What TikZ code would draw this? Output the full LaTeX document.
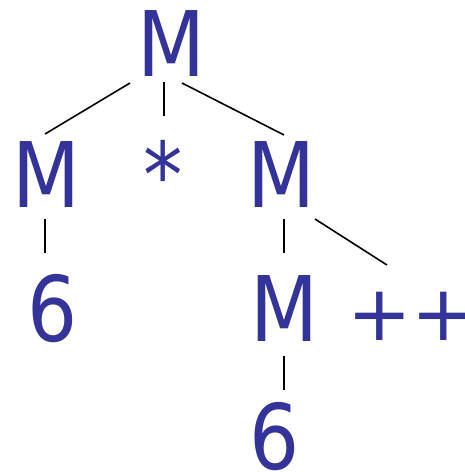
\documentclass[tikz,border=0pt]{standalone}
\usepackage{fontspec}
\setmainfont{DejaVu Sans}
\newfontfamily\symfont{DejaVu Sans}[FakeStretch=0.87]
\definecolor{symblue}{RGB}{51,51,153}
\begin{document}
\begin{tikzpicture}[x=1pt,y=-1pt,
  sym/.style={inner sep=0pt,outer sep=0pt,anchor=base,text=symblue,font=\symfont\fontsize{90.5}{100}\selectfont},
  plus/.style={inner sep=0pt,outer sep=0pt,anchor=base west,text=symblue,font=\fontsize{77}{90}\selectfont},
  edge/.style={draw=black,line width=1.6pt}]
\useasboundingbox (0,0) rectangle (464,472);
\node[sym] (top) at (171,76) {M};
\node[sym] (lm) at (46.5,207) {M};
\node[sym] (star) at (163.5,207) {*};
\node[sym] (rm) at (281,207) {M};
\node[sym] (l6) at (53,341) {6};
\node[sym] (bm) at (284,341) {M};
\node[plus] (pp) at (347,340) {++};
\node[sym] (b6) at (274.5,469) {6};
\coordinate (t1) at (130,83);
\coordinate (t2) at (164,82);
\coordinate (t3) at (182,83);
\coordinate (lmt) at (45,134);
\coordinate (start) at (164,116);
\coordinate (rmt) at (284,135);
\coordinate (lmb) at (45,219);
\coordinate (l6t) at (45,253);
\coordinate (rmb1) at (284,219);
\coordinate (bmt) at (284,253);
\coordinate (rmb2) at (315,219);
\coordinate (ppt) at (387,265);
\coordinate (bmb) at (284,356);
\coordinate (b6t) at (284,390);
\draw[edge] (t1) -- (lmt);
\draw[edge] (t2) -- (start);
\draw[edge] (t3) -- (rmt);
\draw[edge] (lmb) -- (l6t);
\draw[edge] (rmb1) -- (bmt);
\draw[edge] (rmb2) -- (ppt);
\draw[edge] (bmb) -- (b6t);
\end{tikzpicture}
\end{document}
